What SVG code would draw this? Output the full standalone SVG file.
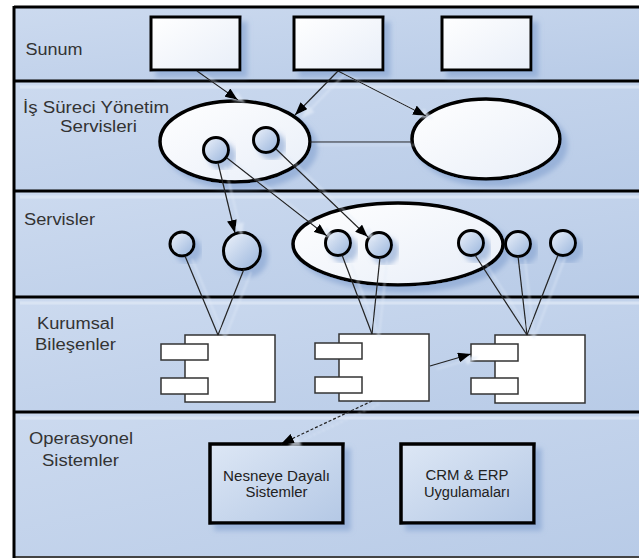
<svg xmlns="http://www.w3.org/2000/svg" width="639" height="560" viewBox="0 0 639 560">
  <defs>
    <linearGradient id="laneFill" x1="0" y1="0" x2="1" y2="1">
      <stop offset="0" stop-color="#ccdaef"/>
      <stop offset="1" stop-color="#b8cbe7"/>
    </linearGradient>
    <linearGradient id="paleFill" x1="0" y1="0" x2="1" y2="1">
      <stop offset="0" stop-color="#ffffff"/>
      <stop offset="1" stop-color="#e8eef8"/>
    </linearGradient>
    <linearGradient id="ballFill" x1="0" y1="0" x2="1" y2="1">
      <stop offset="0" stop-color="#eef3fb"/>
      <stop offset="1" stop-color="#98b4dc"/>
    </linearGradient>
    <linearGradient id="sysFill" x1="0" y1="0" x2="1" y2="1">
      <stop offset="0" stop-color="#dde7f5"/>
      <stop offset="1" stop-color="#b4c8e5"/>
    </linearGradient>
    <filter id="shapeShadow" x="-20%" y="-20%" width="150%" height="150%">
      <feDropShadow dx="6" dy="6" stdDeviation="2.5" flood-color="#7b9bcc" flood-opacity="0.55"/>
    </filter>
    <filter id="lineShadow" x="-10%" y="-10%" width="130%" height="130%">
      <feDropShadow dx="7" dy="3" stdDeviation="0.8" flood-color="#e2ebf8" flood-opacity="0.7"/>
    </filter>
    <marker id="head" markerUnits="userSpaceOnUse" markerWidth="13" markerHeight="10" refX="13" refY="5" orient="auto">
      <path d="M0,0 L13,5 L0,10 z" fill="#000"/>
    </marker>
    <style>
      .lane { fill: url(#laneFill); }
      .rule { stroke: #000; stroke-width: 3; }
      .glow { stroke: #dde7f5; stroke-width: 3; opacity: 0.8; }
      .label { font-family: "Liberation Sans", Arial, sans-serif; font-size: 16px; fill: #333; }
      .boxtext { font-family: "Liberation Sans", Arial, sans-serif; font-size: 14px; fill: #222; text-anchor: middle; }
      .screen { fill: url(#paleFill); stroke: #000; stroke-width: 3; }
      .oval { fill: url(#paleFill); stroke: #000; stroke-width: 3.5; }
      .ball { fill: url(#ballFill); stroke: #000; stroke-width: 3; }
      .part { fill: #fff; stroke: #333; stroke-width: 1.5; }
      .sys { fill: url(#sysFill); stroke: #000; stroke-width: 3.5; }
      .link { stroke: #222; stroke-width: 1.2; fill: none; }
      .arrow { marker-end: url(#head); }
      .dashed { stroke-dasharray: 3 2; }
    </style>
  </defs>

  <!-- swimlanes -->
  <g id="lanes">
    <rect class="lane" x="14" y="7" width="625" height="74"/>
    <rect class="lane" x="14" y="81" width="625" height="110"/>
    <rect class="lane" x="14" y="191" width="625" height="106"/>
    <rect class="lane" x="14" y="297" width="625" height="115"/>
    <rect class="lane" x="14" y="412" width="625" height="145"/>
    <line class="glow" x1="20" y1="87" x2="639" y2="87"/>
    <line class="glow" x1="20" y1="197" x2="639" y2="197"/>
    <line class="glow" x1="20" y1="303" x2="639" y2="303"/>
    <line class="glow" x1="20" y1="418" x2="639" y2="418"/>
    <line class="rule" x1="14" y1="7" x2="639" y2="7"/>
    <line class="rule" x1="14" y1="81" x2="639" y2="81"/>
    <line class="rule" x1="14" y1="191" x2="639" y2="191"/>
    <line class="rule" x1="14" y1="297" x2="639" y2="297"/>
    <line class="rule" x1="14" y1="412" x2="639" y2="412"/>
    <line x1="14" y1="557" x2="639" y2="557" stroke="#444" stroke-width="2"/>
    <line class="rule" x1="14" y1="6" x2="14" y2="558"/>
    <text class="label" x="25.5" y="55" textLength="57" lengthAdjust="spacingAndGlyphs">Sunum</text>
    <text class="label" x="23" y="112.5" textLength="146" lengthAdjust="spacingAndGlyphs">İş Süreci Yönetim</text>
    <text class="label" x="60" y="131.5" textLength="77" lengthAdjust="spacingAndGlyphs">Servisleri</text>
    <text class="label" x="24" y="225" textLength="71" lengthAdjust="spacingAndGlyphs">Servisler</text>
    <text class="label" x="37" y="329" textLength="77" lengthAdjust="spacingAndGlyphs">Kurumsal</text>
    <text class="label" x="35" y="350" textLength="81" lengthAdjust="spacingAndGlyphs">Bileşenler</text>
    <text class="label" x="29" y="444" textLength="104" lengthAdjust="spacingAndGlyphs">Operasyonel</text>
    <text class="label" x="42" y="466" textLength="77" lengthAdjust="spacingAndGlyphs">Sistemler</text>
  </g>

  <!-- presentation screens -->
  <g id="screen1" filter="url(#shapeShadow)"><rect class="screen" x="151" y="17" width="89" height="53"/></g>
  <g id="screen2" filter="url(#shapeShadow)"><rect class="screen" x="294" y="17" width="89" height="53"/></g>
  <g id="screen3" filter="url(#shapeShadow)"><rect class="screen" x="442" y="17" width="89" height="53"/></g>

  <!-- business process management services -->
  <g id="process1" filter="url(#shapeShadow)"><ellipse class="oval" cx="235" cy="141.5" rx="75" ry="40.5"/></g>
  <g id="process2" filter="url(#shapeShadow)"><ellipse class="oval" cx="486" cy="139" rx="74" ry="40"/></g>
  <g id="task1" filter="url(#shapeShadow)"><circle class="ball" cx="216" cy="150" r="12.5"/></g>
  <g id="task2" filter="url(#shapeShadow)"><circle class="ball" cx="266" cy="140" r="12.5"/></g>

  <!-- services -->
  <g id="serviceGroup" filter="url(#shapeShadow)"><ellipse class="oval" cx="398" cy="244" rx="105" ry="41"/></g>
  <g id="service1" filter="url(#shapeShadow)"><circle class="ball" cx="182" cy="244" r="12"/></g>
  <g id="service2" filter="url(#shapeShadow)"><circle class="ball" cx="242" cy="251" r="18.5"/></g>
  <g id="service3" filter="url(#shapeShadow)"><circle class="ball" cx="338" cy="243" r="12.5"/></g>
  <g id="service4" filter="url(#shapeShadow)"><circle class="ball" cx="379" cy="245" r="12.5"/></g>
  <g id="service5" filter="url(#shapeShadow)"><circle class="ball" cx="471" cy="243" r="12.5"/></g>
  <g id="service6" filter="url(#shapeShadow)"><circle class="ball" cx="518" cy="244" r="12.5"/></g>
  <g id="service7" filter="url(#shapeShadow)"><circle class="ball" cx="563" cy="243" r="12.5"/></g>

  <!-- enterprise components -->
  <g id="component1">
    <rect class="part" x="185" y="335" width="90" height="67"/>
    <rect class="part" x="161" y="344" width="47" height="16"/>
    <rect class="part" x="161" y="378" width="47" height="16"/>
  </g>
  <g id="component2">
    <rect class="part" x="339" y="334" width="90" height="67"/>
    <rect class="part" x="315" y="343" width="47" height="16"/>
    <rect class="part" x="315" y="377" width="47" height="16"/>
  </g>
  <g id="component3">
    <rect class="part" x="495" y="335" width="90" height="68"/>
    <rect class="part" x="471" y="344" width="47" height="17"/>
    <rect class="part" x="471" y="378" width="47" height="16"/>
  </g>

  <!-- operational systems -->
  <g id="objectSystems">
    <rect class="sys" x="210" y="444" width="133" height="79" filter="url(#shapeShadow)"/>
    <text class="boxtext" x="276.5" y="480.5" textLength="107" lengthAdjust="spacingAndGlyphs">Nesneye Dayalı</text>
    <text class="boxtext" x="276.5" y="497" textLength="62" lengthAdjust="spacingAndGlyphs">Sistemler</text>
  </g>
  <g id="crmErp">
    <rect class="sys" x="401" y="444" width="133" height="79" filter="url(#shapeShadow)"/>
    <text class="boxtext" x="467" y="480" textLength="83" lengthAdjust="spacingAndGlyphs">CRM &amp; ERP</text>
    <text class="boxtext" x="467" y="497" textLength="86" lengthAdjust="spacingAndGlyphs">Uygulamaları</text>
  </g>

  <!-- connectors -->
  <g id="connectors" filter="url(#lineShadow)">
    <line class="link arrow" x1="197" y1="71" x2="238" y2="100"/>
    <line class="link arrow" x1="338" y1="71" x2="295" y2="115"/>
    <line class="link arrow" x1="338" y1="71" x2="426" y2="116"/>
    <line class="link" x1="310" y1="142" x2="412" y2="142"/>
    <line class="link arrow" x1="218" y1="163" x2="235" y2="233"/>
    <line class="link arrow" x1="227" y1="158" x2="327" y2="236"/>
    <line class="link arrow" x1="276" y1="149" x2="368" y2="237"/>
    <line class="link" x1="185" y1="256" x2="218" y2="335"/>
    <line class="link" x1="244" y1="269" x2="218" y2="335"/>
    <line class="link" x1="342" y1="255" x2="372" y2="334"/>
    <line class="link" x1="380" y1="257" x2="372" y2="334"/>
    <line class="link" x1="475" y1="255" x2="527" y2="335"/>
    <line class="link" x1="518" y1="256" x2="527" y2="335"/>
    <line class="link" x1="558" y1="255" x2="527" y2="335"/>
    <line class="link arrow" x1="430" y1="366" x2="471" y2="354"/>
    <line class="link arrow dashed" x1="372" y1="401" x2="281" y2="444"/>
  </g>
</svg>
